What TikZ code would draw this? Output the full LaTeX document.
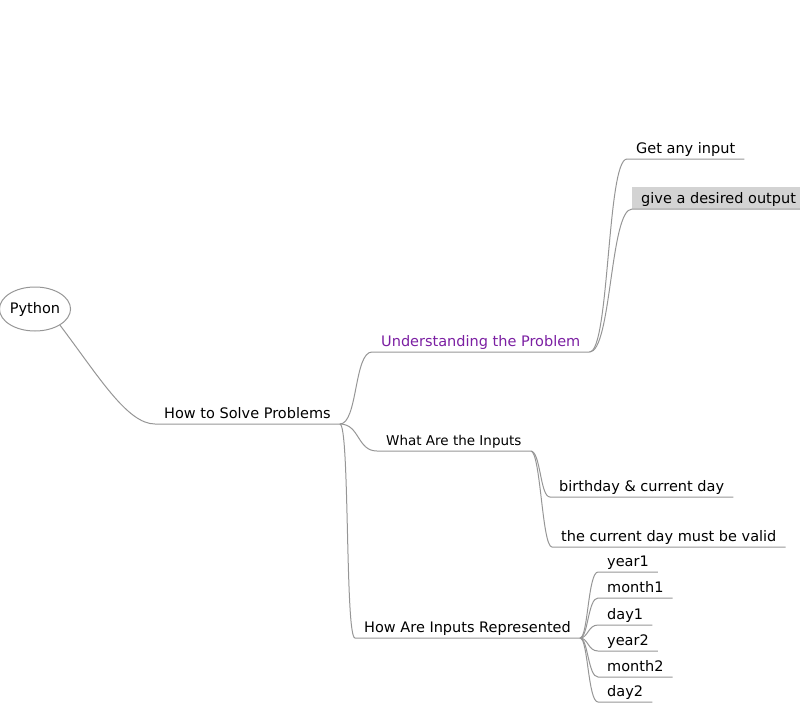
\documentclass[tikz,border=0pt]{standalone}
\usepackage{fontspec}
\setmainfont{DejaVu Sans}
\usetikzlibrary{shapes.geometric}
\definecolor{edgegray}{RGB}{150,150,150}
\definecolor{topicpurple}{RGB}{123,31,162}
\definecolor{selgray}{RGB}{211,211,211}
\tikzset{
  topic/.style={anchor=south west, inner xsep=9pt, inner ysep=2pt,
    text height=10.5pt, text depth=3pt, font=\fontsize{14.5}{16}\selectfont},
  small topic/.style={topic, font=\fontsize{13.5}{15}\selectfont},
  branch/.style={draw=edgegray, line width=1pt},
}
\begin{document}
\begin{tikzpicture}[x=1pt,y=-1pt]
  \useasboundingbox (0,0) rectangle (800,704);
  \node[ellipse, draw=edgegray, line width=1pt, minimum width=69pt, minimum height=44pt,
    inner sep=0pt, font=\fontsize{14.5}{16}\selectfont] (py) at (35,309) {Python};
  \node[topic] (solve) at (155,424) {How to Solve Problems};
  \node[topic, text=topicpurple] (under) at (372,352) {Understanding the Problem};
  \node[topic] (get) at (627,159) {Get any input};
  \node[topic, fill=selgray, text height=15pt] (give) at (632,209) {give a desired output};
  \node[small topic] (what) at (377,451) {What Are the Inputs};
  \node[topic] (bday) at (550,497) {birthday \& current day};
  \node[topic] (valid) at (552,547) {the current day must be valid};
  \node[topic] (repr) at (355,638) {How Are Inputs Represented};
  \node[topic] (yearA) at (598,572) {year1};
  \node[topic] (monthA) at (598,598) {month1};
  \node[topic] (dayA) at (598,625) {day1};
  \node[topic] (yearB) at (598,651) {year2};
  \node[topic] (monthB) at (598,677) {month2};
  \node[topic] (dayB) at (598,702) {day2};
  % root branch
  \draw[branch] (py.-33) .. controls +(38,50) and +(-28,0) .. (solve.south west) -- (solve.south east);
  % first level
  \draw[branch] (solve.south east) .. controls +(18,0) and +(-18,0) .. (under.south west) -- (under.south east);
  \draw[branch] (solve.south east) .. controls +(20,0) and +(-20,0) .. (what.south west) -- (what.south east);
  \draw[branch] (solve.south east) .. controls +(10,0) and +(-10,0) .. (repr.south west) -- (repr.south east);
  % second level
  \draw[branch] (under.south east) .. controls +(20,0) and +(-20,0) .. (get.south west) -- (get.south east);
  \draw[branch] (under.south east) .. controls +(22,0) and +(-22,0) .. (give.south west) -- (give.south east);
  \draw[branch] (what.south east) .. controls +(10,0) and +(-10,0) .. (bday.south west) -- (bday.south east);
  \draw[branch] (what.south east) .. controls +(10,0) and +(-10,0) .. (valid.south west) -- (valid.south east);
  \draw[branch] (repr.south east) .. controls +(8,0) and +(-10,0) .. (yearA.south west) -- (yearA.south east);
  \draw[branch] (repr.south east) .. controls +(8,0) and +(-10,0) .. (monthA.south west) -- (monthA.south east);
  \draw[branch] (repr.south east) .. controls +(8,0) and +(-10,0) .. (dayA.south west) -- (dayA.south east);
  \draw[branch] (repr.south east) .. controls +(8,0) and +(-10,0) .. (yearB.south west) -- (yearB.south east);
  \draw[branch] (repr.south east) .. controls +(8,0) and +(-10,0) .. (monthB.south west) -- (monthB.south east);
  \draw[branch] (repr.south east) .. controls +(8,0) and +(-10,0) .. (dayB.south west) -- (dayB.south east);
\end{tikzpicture}
\end{document}
